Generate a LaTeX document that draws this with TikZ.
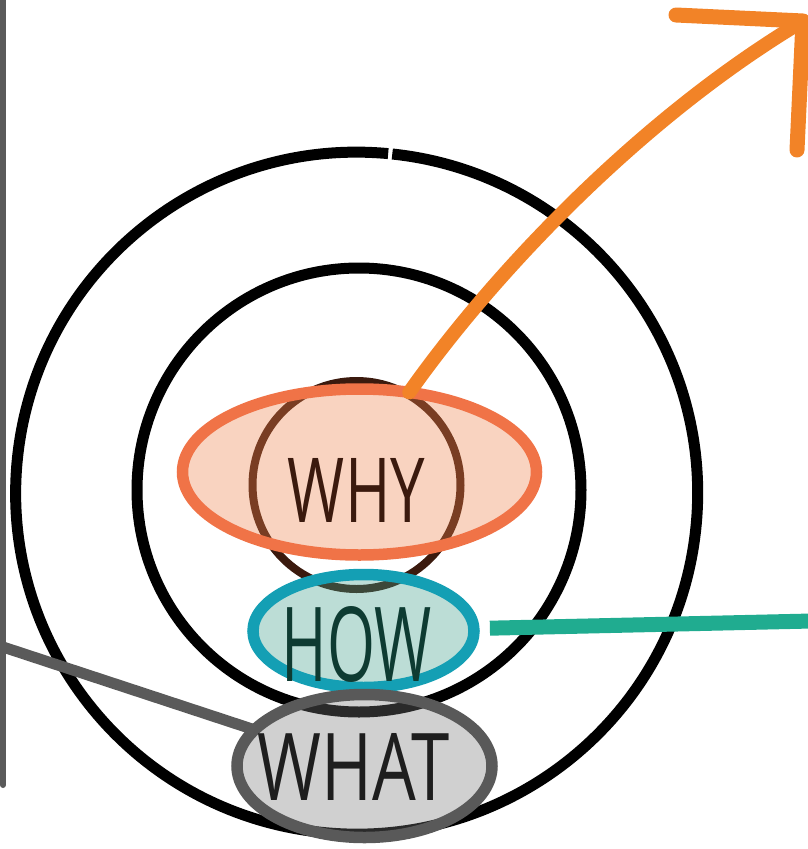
\documentclass[tikz,border=0pt]{standalone}
\usepackage{fontspec}
\setmainfont{Open Sans}
\usepackage{graphicx}
\usetikzlibrary{shapes.geometric}
\definecolor{arroworange}{HTML}{F28327}
\definecolor{whyline}{HTML}{F07347}
\definecolor{whyfill}{HTML}{EE814B}
\definecolor{whytext}{HTML}{3B1A0E}
\definecolor{howline}{HTML}{149FB4}
\definecolor{howfill}{HTML}{409E8A}
\definecolor{howtext}{HTML}{0E3B32}
\definecolor{tealline}{HTML}{20AC90}
\definecolor{whatline}{HTML}{595959}
\definecolor{whatfill}{HTML}{797979}
\definecolor{whattext}{HTML}{1E1E1E}
\definecolor{grayline}{HTML}{5A5A5A}
\begin{document}
\begin{tikzpicture}[x=1pt,y=-1pt,
  ringline/.style={draw=black,line width=11pt},
  coreline/.style={draw=whytext,line width=8pt},
  blob/.style={ellipse,inner sep=0pt,outer sep=0pt,line width=11.5pt,fill opacity=0.35,draw opacity=1},
  label/.style={inner sep=0pt,outer sep=0pt,anchor=center},
]
\useasboundingbox (0,0) rectangle (808,849);
% rings
\draw[ringline] (392.3,154.0) arc[start angle=-84, delta angle=359.3, radius=341];
\node[circle,ringline,minimum size=444pt,inner sep=0pt] (middle) at (359,490) {};
\node[circle,coreline,minimum size=208pt,inner sep=0pt] (core) at (356.5,485) {};
% highlight ellipses
\node[blob,draw=whyline,fill=whyfill,minimum width=354pt,minimum height=166pt] (why) at (359.5,472) {};
\node[blob,draw=howline,fill=howfill,minimum width=221pt,minimum height=113pt] (how) at (363.5,631) {};
\node[blob,draw=whatline,fill=whatfill,minimum width=255pt,minimum height=143pt] (what) at (364.5,766) {};
% texts
\node[label,text=whytext] (whyt) at (356.5,490) {\resizebox{137pt}{64pt}{WHY}};
\node[label,text=howtext] (howt) at (357,644.5) {\resizebox{150pt}{75pt}{HOW}};
\node[label,text=whattext] (whatt) at (354,766.5) {\resizebox{192pt}{67pt}{WHAT}};
% left frame line
\coordinate (frametop) at (3,-6);
\coordinate (framebot) at (3,785);
\draw[grayline,line width=6pt,line cap=round] (frametop) -- (framebot);
% connectors
\coordinate (whatstart) at (3,647);
\draw[grayline,line width=11pt] (whatstart) -- (what);
\coordinate (howend) at (812,621);
\draw[tealline,line width=15pt,shorten <=16pt] (how) -- (howend);
\coordinate (tip) at (803,21);
\coordinate (headl) at (676,15);
\coordinate (headr) at (797,150);
\draw[arroworange,line width=14pt,line cap=round] (why.58) .. controls (492,275) and (640,118) .. (tip);
\draw[arroworange,line width=15pt,line cap=round,line join=round] (headl) -- (tip) -- (headr);
\end{tikzpicture}
\end{document}
